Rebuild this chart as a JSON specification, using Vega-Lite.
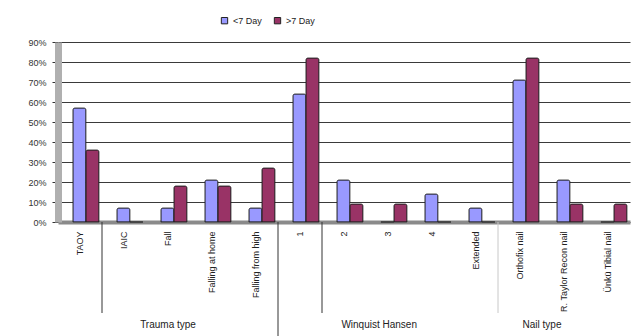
{
  "$schema": "https://vega.github.io/schema/vega-lite/v6.json",
  "width": 582,
  "height": 180,
  "autosize": "none",
  "padding": {"left": 58, "top": 42, "right": 3, "bottom": 114},
  "background": "white",
  "view": {"stroke": null},
  "config": {"font": "Liberation Sans"},
  "resolve": {"axis": {"y": "independent"}},
  "datasets": {
    "bars": [
      {"cat": "TAOY", "group": "Trauma type", "series": "<7 Day", "value": 0.57},
      {"cat": "TAOY", "group": "Trauma type", "series": ">7 Day", "value": 0.36},
      {"cat": "IAIC", "group": "Trauma type", "series": "<7 Day", "value": 0.07},
      {"cat": "IAIC", "group": "Trauma type", "series": ">7 Day", "value": 0.0},
      {"cat": "Fall", "group": "Trauma type", "series": "<7 Day", "value": 0.07},
      {"cat": "Fall", "group": "Trauma type", "series": ">7 Day", "value": 0.18},
      {"cat": "Falling at home", "group": "Trauma type", "series": "<7 Day", "value": 0.21},
      {"cat": "Falling at home", "group": "Trauma type", "series": ">7 Day", "value": 0.18},
      {"cat": "Falling from high", "group": "Trauma type", "series": "<7 Day", "value": 0.07},
      {"cat": "Falling from high", "group": "Trauma type", "series": ">7 Day", "value": 0.27},
      {"cat": "1", "group": "Winquist Hansen", "series": "<7 Day", "value": 0.64},
      {"cat": "1", "group": "Winquist Hansen", "series": ">7 Day", "value": 0.82},
      {"cat": "2", "group": "Winquist Hansen", "series": "<7 Day", "value": 0.21},
      {"cat": "2", "group": "Winquist Hansen", "series": ">7 Day", "value": 0.09},
      {"cat": "3", "group": "Winquist Hansen", "series": "<7 Day", "value": 0.0},
      {"cat": "3", "group": "Winquist Hansen", "series": ">7 Day", "value": 0.09},
      {"cat": "4", "group": "Winquist Hansen", "series": "<7 Day", "value": 0.14},
      {"cat": "4", "group": "Winquist Hansen", "series": ">7 Day", "value": 0.0},
      {"cat": "Extended", "group": "Winquist Hansen", "series": "<7 Day", "value": 0.07},
      {"cat": "Extended", "group": "Winquist Hansen", "series": ">7 Day", "value": 0.0},
      {"cat": "Orthofix nail", "group": "Nail type", "series": "<7 Day", "value": 0.71},
      {"cat": "Orthofix nail", "group": "Nail type", "series": ">7 Day", "value": 0.82},
      {"cat": "R. Taylor Recon nail", "group": "Nail type", "series": "<7 Day", "value": 0.21},
      {"cat": "R. Taylor Recon nail", "group": "Nail type", "series": ">7 Day", "value": 0.09},
      {"cat": "Ünkü Tibial nail", "group": "Nail type", "series": "<7 Day", "value": 0.0},
      {"cat": "Ünkü Tibial nail", "group": "Nail type", "series": ">7 Day", "value": 0.09}
    ]
  },
  "layer": [
    {
      "data": {"values": [{"cat": "IAIC"}, {"cat": "2"}]},
      "mark": {"type": "rule", "color": "#333", "strokeWidth": 1},
      "encoding": {
        "x": {"field": "cat", "type": "nominal", "bandPosition": 0},
        "y": {"datum": 0, "type": "quantitative", "axis": null},
        "y2": {"datum": -0.455}
      }
    },
    {
      "data": {"values": [{"cat": "1"}]},
      "mark": {"type": "rule", "color": "#333", "strokeWidth": 1},
      "encoding": {
        "x": {"field": "cat", "type": "nominal", "bandPosition": 0},
        "y": {"datum": 0, "type": "quantitative", "axis": null},
        "y2": {"datum": -0.57}
      }
    },
    {
      "data": {"values": [{"cat": "Orthofix nail"}]},
      "mark": {"type": "rule", "color": "#c8c8c8", "strokeWidth": 1},
      "encoding": {
        "x": {"field": "cat", "type": "nominal", "bandPosition": 0},
        "y": {"datum": 0, "type": "quantitative", "axis": null},
        "y2": {"datum": -0.455}
      }
    },
    {
      "data": {"values": [{"cat": "Fall", "label": "Trauma type"}]},
      "mark": {"type": "text", "fontSize": 10, "color": "#222", "baseline": "middle"},
      "encoding": {
        "x": {"field": "cat", "type": "nominal", "bandPosition": 0.5},
        "y": {"datum": -0.515, "type": "quantitative", "axis": null},
        "text": {"field": "label"}
      }
    },
    {
      "data": {"values": [{"cat": "3", "label": "Winquist Hansen"}]},
      "mark": {"type": "text", "fontSize": 10, "color": "#222", "baseline": "middle"},
      "encoding": {
        "x": {"field": "cat", "type": "nominal", "bandPosition": 0.3},
        "y": {"datum": -0.515, "type": "quantitative", "axis": null},
        "text": {"field": "label"}
      }
    },
    {
      "data": {"values": [{"cat": "R. Taylor Recon nail", "label": "Nail type"}]},
      "mark": {"type": "text", "fontSize": 10, "color": "#222", "baseline": "middle"},
      "encoding": {
        "x": {"field": "cat", "type": "nominal", "bandPosition": 0},
        "y": {"datum": -0.515, "type": "quantitative", "axis": null},
        "text": {"field": "label"}
      }
    },
    {
      "data": {"name": "bars"},
      "mark": {"type": "bar", "stroke": "#222", "strokeWidth": 0.8, "cornerRadiusTopLeft": 2, "cornerRadiusTopRight": 2},
      "encoding": {
        "x": {
          "field": "cat", "type": "nominal",
          "scale": {
            "domain": ["TAOY", "IAIC", "Fall", "Falling at home", "Falling from high", "1", "2", "3", "4", "Extended", "Orthofix nail", "R. Taylor Recon nail", "Ünkü Tibial nail"],
            "range": [0, 572], "paddingInner": 0, "paddingOuter": 0
          },
          "axis": {
            "title": null, "ticks": false, "domainColor": "#8a8a8a", "domainWidth": 4,
            "labelAngle": 270, "labelAlign": "right", "labelBaseline": "middle",
            "labelPadding": 9, "labelFontSize": 9, "labelColor": "#222", "labelLimit": 0
          }
        },
        "xOffset": {
          "field": "series", "type": "nominal",
          "scale": {"paddingInner": 0, "paddingOuter": 0.69, "align": 0.83}
        },
        "y": {
          "field": "value", "type": "quantitative",
          "scale": {"domain": [0, 0.9], "nice": false},
          "axis": {
            "title": null, "format": ".0%",
            "values": [0, 0.1, 0.2, 0.3, 0.4, 0.5, 0.6, 0.7, 0.8, 0.9],
            "labelOverlap": false,
            "grid": true, "gridColor": "#3a3a3a", "gridWidth": 1,
            "domainColor": "#b0b0b0", "domainWidth": 7,
            "tickColor": "#333", "tickSize": 6, "labelPadding": 6,
            "labelFontSize": 9, "labelColor": "#333"
          }
        },
        "color": {
          "field": "series", "type": "nominal",
          "scale": {"domain": ["<7 Day", ">7 Day"], "range": ["#9999FF", "#993366"]},
          "legend": {
            "title": null, "orient": "none", "direction": "horizontal",
            "legendX": 162, "legendY": -26,
            "symbolType": "square", "symbolSize": 40, "symbolStrokeColor": "#222", "symbolStrokeWidth": 1,
            "labelFontSize": 9, "labelColor": "#222", "columnPadding": 10
          }
        }
      }
    }
  ]
}
